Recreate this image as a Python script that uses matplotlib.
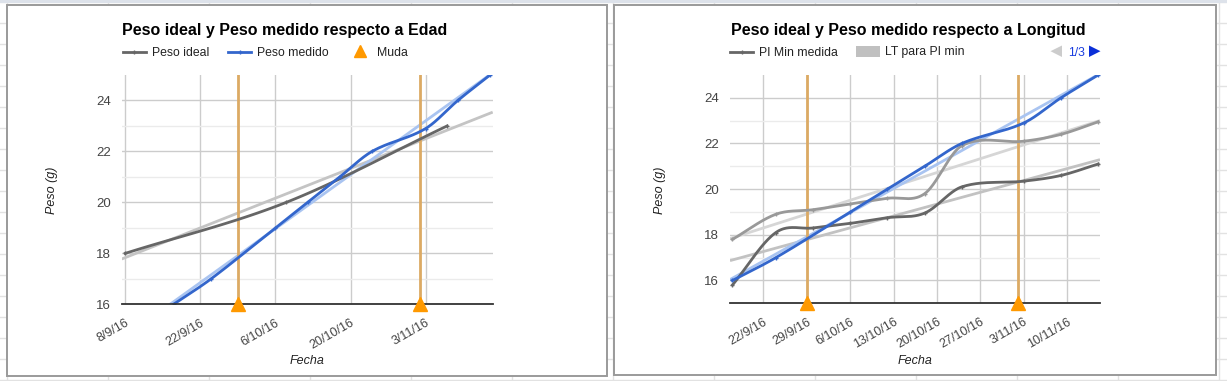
import numpy as np
import matplotlib
matplotlib.use("Agg")
import matplotlib.pyplot as plt
import matplotlib.dates as mdates
from matplotlib.patches import Rectangle, Polygon

plt.rcParams['font.family'] = ['Liberation Sans', 'DejaVu Sans']

# ---- data ----
ideal_dates = ['2016-09-08', '2016-10-08', '2016-11-07']
ideal_values = [18.0, 20.0, 23.0]

medido_dates = ['2016-09-17', '2016-09-24', '2016-10-06', '2016-10-12', '2016-10-18',
                '2016-10-24', '2016-11-03', '2016-11-09', '2016-11-15']
medido_values = [16.0, 17.0, 19.0, 20.0, 21.0, 22.0, 22.9, 24.0, 25.0]

muda_dates = ['2016-09-29', '2016-11-02']

long_dates = ['2016-09-17', '2016-09-24', '2016-09-30', '2016-10-06', '2016-10-12',
              '2016-10-18', '2016-10-24', '2016-11-03', '2016-11-09', '2016-11-15']
pi_min_values = [15.8, 18.1, 18.3, 18.5, 18.75, 18.95, 20.1, 20.35, 20.6, 21.1]
pi_max_values = [17.8, 18.9, 19.1, 19.35, 19.6, 19.8, 21.9, 22.1, 22.4, 22.95]

edad_ticks = ['2016-09-08', '2016-09-22', '2016-10-06', '2016-10-20', '2016-11-03']
edad_ticklabels = ['8/9/16', '22/9/16', '6/10/16', '20/10/16', '3/11/16']
long_ticks = ['2016-09-22', '2016-09-29', '2016-10-06', '2016-10-13', '2016-10-20',
              '2016-10-27', '2016-11-03', '2016-11-10']
long_ticklabels = ['22/9/16', '29/9/16', '6/10/16', '13/10/16', '20/10/16',
                   '27/10/16', '3/11/16', '10/11/16']

W, H = 1227, 381
GREY_DARK = '#666666'
GREY_MID = '#999999'
BLUE = '#3366cc'
LIGHT_BLUE = '#a9c4f1'
ORANGE = '#ff9900'
MUDA_LINE = '#dcaa64'


def to_num(dates):
    return mdates.date2num(np.array(dates, dtype='datetime64[D]'))


def smooth(x, y, n=40):
    # cubic hermite through the points, like the "function" curve of the sheet chart
    x = np.asarray(x, float)
    y = np.asarray(y, float)
    m = np.zeros_like(y)
    m[1:-1] = (y[2:] - y[:-2]) / (x[2:] - x[:-2])
    m[0] = (y[1] - y[0]) / (x[1] - x[0])
    m[-1] = (y[-1] - y[-2]) / (x[-1] - x[-2])
    xs, ys = [x[0]], [y[0]]
    t = np.linspace(0, 1, n)[1:]
    for i in range(len(x) - 1):
        h = x[i + 1] - x[i]
        h00 = 2 * t**3 - 3 * t**2 + 1
        h10 = t**3 - 2 * t**2 + t
        h01 = -2 * t**3 + 3 * t**2
        h11 = t**3 - t**2
        xs.extend(x[i] + t * h)
        ys.extend(h00 * y[i] + h10 * h * m[i] + h01 * y[i + 1] + h11 * h * m[i + 1])
    return np.array(xs), np.array(ys)


def trend(ax, x, y, color, lw=2):
    a, b = np.polyfit(x, y, 1)
    x0, x1 = ax.get_xlim()
    xx = np.array([x0, x1])
    ax.plot(xx, a * xx + b, color=color, lw=lw, zorder=2, solid_capstyle='butt')


def series(ax, x, y, color):
    sx, sy = smooth(x, y)
    ax.plot(sx, sy, color=color, lw=2, zorder=4)
    ax.plot(x, y, ls='none', marker='+', ms=3, mew=1, color=color, zorder=5)


def px_axes(fig, x0, y0, x1, y1):
    return fig.add_axes([x0 / W, 1 - y1 / H, (x1 - x0) / W, (y1 - y0) / H])


def style_axes(ax, ymin, ymax, ticks, ticklabels):
    for s in ax.spines.values():
        s.set_visible(False)
    major = np.arange(ymin if ymin % 2 == 0 else ymin + 1, ymax, 2)
    minor = np.arange(ymin + 1 if ymin % 2 == 0 else ymin, ymax, 2)
    ax.set_yticks(major)
    ax.set_yticks(minor, minor=True)
    ax.set_ylim(ymin, ymax)
    ax.set_xticks(to_num(ticks))
    ax.set_xticklabels(ticklabels, rotation=30, ha='right', va='top',
                       rotation_mode='anchor', color='#444444', fontsize=9)
    ax.tick_params(axis='both', which='both', length=0)
    ax.tick_params(axis='y', labelcolor='#444444', labelsize=9.5, pad=8)
    ax.tick_params(axis='x', pad=9)
    ax.grid(axis='y', which='major', color='#cccccc', lw=1)
    ax.grid(axis='y', which='minor', color='#ebebeb', lw=1)
    ax.grid(axis='x', which='major', color='#cccccc', lw=1)
    ax.set_axisbelow(True)
    ax.axhline(ymin, color='#333333', lw=1.3, zorder=6, clip_on=False)


def muda(ax, ymin):
    for d in to_num(muda_dates):
        ax.axvline(d, color=MUDA_LINE, lw=2, zorder=3)
    ax.plot(to_num(muda_dates), [ymin] * len(muda_dates), ls='none', marker='^',
            ms=10, color=ORANGE, mec=ORANGE, zorder=7, clip_on=False)


fig = plt.figure(figsize=(W / 100, H / 100), dpi=100)
fig.patch.set_facecolor('white')

# background: spreadsheet grid and the two chart panels
bg = fig.add_axes([0, 0, 1, 1], zorder=-5)
bg.set_xlim(0, W)
bg.set_ylim(H, 0)
bg.axis('off')
for yy in range(2, H, 21):
    bg.plot([0, W], [yy, yy], color='#e2e2e2', lw=1, zorder=1)
for xx in range(7, W, 101):
    bg.plot([xx, xx], [3, H], color='#e2e2e2', lw=1, zorder=1)
bg.add_patch(Rectangle((0, 0), W, 3, color='#dde2ea', lw=0, zorder=2))
bg.add_patch(Rectangle((6.5, 4.5), 600.5, 371.5, facecolor='white', edgecolor='#9a9a9a',
                       lw=1.4, zorder=3))
bg.add_patch(Rectangle((614, 4.5), 601.5, 370.5, facecolor='white', edgecolor='#9a9a9a',
                       lw=1.4, zorder=3))

# ---- left chart: Edad ----
ax1 = px_axes(fig, 121.7, 75, 492.7, 304.3)
ax1.set_facecolor('none')
ax1.set_xlim(to_num(['2016-09-08'])[0] - 0.67, to_num(['2016-11-15'])[0] + 0.5)
style_axes(ax1, 16, 25, edad_ticks, edad_ticklabels)
x_ideal = to_num(ideal_dates)
x_med = to_num(medido_dates)
trend(ax1, x_ideal, ideal_values, '#c4c4c4')
trend(ax1, x_med, medido_values, LIGHT_BLUE)
muda(ax1, 16)
series(ax1, x_ideal, ideal_values, GREY_DARK)
series(ax1, x_med, medido_values, BLUE)

# ---- right chart: Longitud ----
ax2 = px_axes(fig, 730, 75, 1100, 303.3)
ax2.set_facecolor('none')
ax2.set_xlim(to_num(['2016-09-17'])[0] - 0.4, to_num(['2016-11-15'])[0] + 0.3)
style_axes(ax2, 15, 25, long_ticks, long_ticklabels)
x_long = to_num(long_dates)
trend(ax2, x_long, pi_min_values, '#c2c2c2')
trend(ax2, x_long, pi_max_values, '#d6d6d6')
trend(ax2, x_med, medido_values, LIGHT_BLUE)
muda(ax2, 15)
series(ax2, x_long, pi_max_values, GREY_MID)
series(ax2, x_long, pi_min_values, GREY_DARK)
series(ax2, x_med, medido_values, BLUE)

# ---- titles, legends, axis titles (pixel positions) ----
bg2 = fig.add_axes([0, 0, 1, 1], zorder=10)
bg2.set_xlim(0, W)
bg2.set_ylim(H, 0)
bg2.axis('off')

bg2.text(122, 31, 'Peso ideal y Peso medido respecto a Edad', fontsize=11.5,
         fontweight='bold', color='#000000', va='center', ha='left')
bg2.text(731, 31, 'Peso ideal y Peso medido respecto a Longitud', fontsize=11.5,
         fontweight='bold', color='#000000', va='center', ha='left')


def legend_line(x0, y, color, label):
    bg2.plot([x0, x0 + 23], [y, y], color=color, lw=2)
    bg2.plot([x0 + 11.5], [y], marker='+', ms=3, color=color)
    bg2.text(x0 + 29, y + 1, label, fontsize=8.8, color='#222222', va='center', ha='left')


legend_line(122.5, 51.5, GREY_DARK, 'Peso ideal')
legend_line(228, 51.5, BLUE, 'Peso medido')
bg2.plot([360], [50.5], marker='^', ms=9, color=ORANGE, ls='none')
bg2.text(376.5, 52.5, 'Muda', fontsize=8.8, color='#222222', va='center', ha='left')

legend_line(730, 51.5, GREY_DARK, 'PI Min medida')
bg2.add_patch(Rectangle((856, 45.5), 24, 11, color='#c0c0c0', lw=0))
bg2.text(885, 52.5, 'LT para PI min', fontsize=8.8, color='#222222', va='center', ha='left')
bg2.add_patch(Polygon([[1062, 45.5], [1062, 57], [1050.5, 51.2]], closed=True, color='#cccccc', lw=0))
bg2.text(1068, 52.5, '1/3', fontsize=8.8, color='#1a3de0', va='center', ha='left')
bg2.add_patch(Polygon([[1089, 45.5], [1089, 57], [1100.5, 51.2]], closed=True, color='#0b2fd8', lw=0))

for xc, yc in [(52, 190), (660, 190)]:
    bg2.text(xc, yc, 'Peso (g)', rotation=90, fontsize=9, style='italic',
             color='#222222', va='center', ha='center')
bg2.text(307, 361, 'Fecha', fontsize=9, style='italic', color='#222222', va='center', ha='center')
bg2.text(915, 361, 'Fecha', fontsize=9, style='italic', color='#222222', va='center', ha='center')

fig.savefig('out.png', dpi=100, facecolor='white')
